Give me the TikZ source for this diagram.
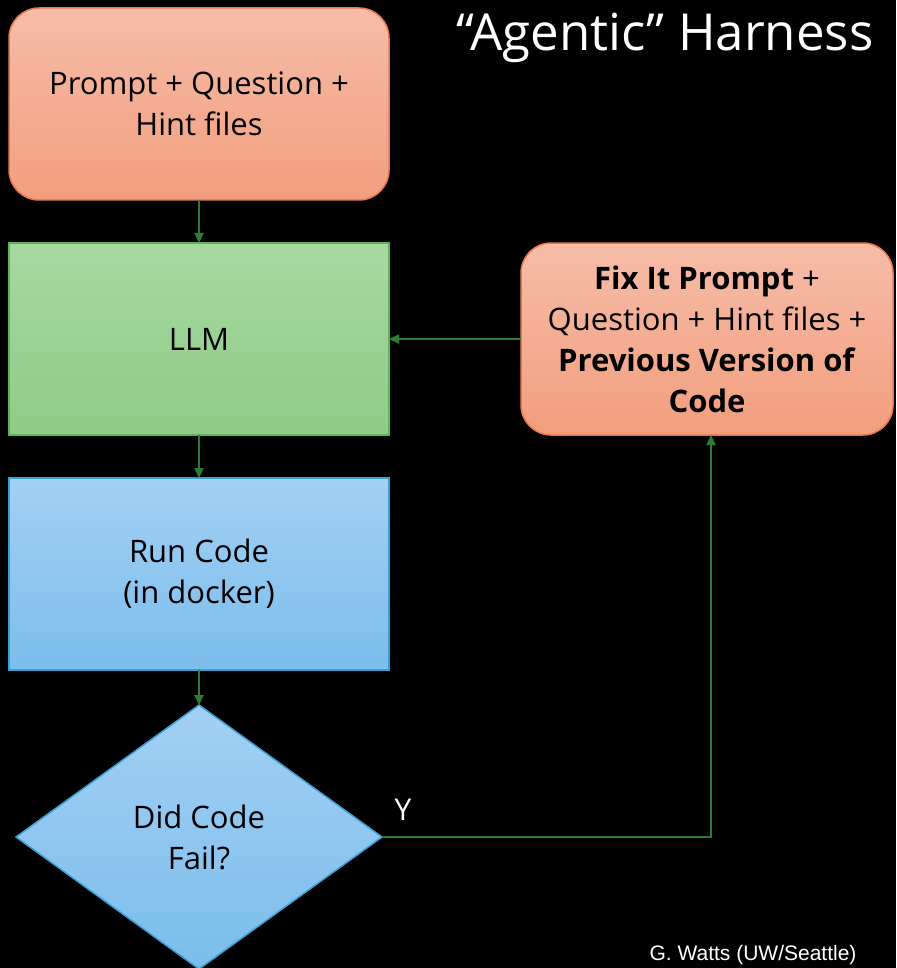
\documentclass[tikz,border=0pt]{standalone}
\usepackage{fontspec}
\setmainfont{Open Sans}
\newfontfamily\credfont{Liberation Sans}
\usetikzlibrary{shapes.geometric,arrows.meta}
\definecolor{orTop}{HTML}{F6BCA8}
\definecolor{orBot}{HTML}{F29E7E}
\definecolor{orLine}{HTML}{E8784E}
\definecolor{grTop}{HTML}{A8D8A2}
\definecolor{grBot}{HTML}{8FCB87}
\definecolor{grLine}{HTML}{5DB55A}
\definecolor{blTop}{HTML}{A3D0F4}
\definecolor{blBot}{HTML}{7BBDEB}
\definecolor{blLine}{HTML}{3A9FD3}
\definecolor{arr}{HTML}{2F7D32}
\tikzset{
  orbox/.style={rounded corners=30pt, draw=orLine, line width=1.5pt, top color=orTop, bottom color=orBot},
  grbox/.style={draw=grLine, line width=1.5pt, top color=grTop, bottom color=grBot},
  blbox/.style={draw=blLine, line width=1.5pt, top color=blTop, bottom color=blBot},
  txt/.style={align=center, text=black, font=\fontsize{31}{41}\selectfont},
  conn/.style={draw=arr, line width=2pt, -{Triangle[length=10pt,width=9pt]}},
}
\begin{document}
\begin{tikzpicture}[x=1pt,y=-1pt]
\fill[black] (0,0) rectangle (896,968);
\useasboundingbox (0,0) rectangle (896,968);
% boxes
\draw[orbox] (9,8) rectangle (389,200);
\node[txt] (top) at (199,104) {Prompt + Question +\\Hint files};
\draw[grbox] (9,243) rectangle (389,435);
\node[txt] (llm) at (199,339) {LLM};
\draw[blbox] (9,478) rectangle (389,670);
\node[txt] (run) at (199,574) {Run Code\\(in docker)};
\draw[orbox] (521,243) rectangle (893,435);
\node[txt] (fix) at (707,339) {\textbf{Fix It Prompt} +\\Question + Hint files +\\\textbf{Previous Version of}\\\textbf{Code}};
% diamond
\draw[draw=blLine, line width=1.5pt, top color=blTop, bottom color=blBot] (199,705) -- (382,837) -- (199,969) -- (16,837) -- cycle;
\node[txt] (dia) at (199,837) {Did Code\\Fail?};
% anchor coordinates
\coordinate (topS) at (199,200);
\coordinate (llmN) at (199,243);
\coordinate (llmS) at (199,435);
\coordinate (llmE) at (389,339);
\coordinate (runN) at (199,478);
\coordinate (runS) at (199,670);
\coordinate (diaN) at (199,705);
\coordinate (diaE) at (382,837);
\coordinate (fixW) at (521,339);
\coordinate (fixS) at (711,435);
\coordinate (bend) at (711,837);
% connectors
\draw[conn] (topS) -- (llmN);
\draw[conn] (llmS) -- (runN);
\draw[conn] (runS) -- (diaN);
\draw[conn] (fixW) -- (llmE);
\draw[conn] (diaE) -- (bend) -- (fixS);
% labels
\node[text=white, font=\fontsize{30}{30}\selectfont] (y) at (403,810) {Y};
\node[text=white, anchor=east, font=\fontsize{51}{52}\selectfont] (title) at (877,38) {“Agentic” Harness};
\node[text=white, anchor=east, font=\credfont\fontsize{21}{21}\selectfont] (cred) at (860,955) {G. Watts (UW/Seattle)};
\end{tikzpicture}
\end{document}
